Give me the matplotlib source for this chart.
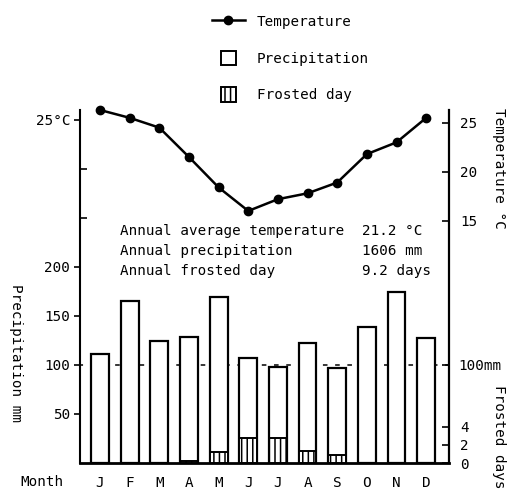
import matplotlib
matplotlib.use("Agg")
import matplotlib.pyplot as plt
import numpy as np
from matplotlib.lines import Line2D
from matplotlib.patches import Patch, Rectangle
from matplotlib.legend_handler import HandlerPatch

# Données
months = ["J", "F", "M", "A", "M", "J", "J", "A", "S", "O", "N", "D"]
temperature = [26.3, 25.5, 24.5, 21.5, 18.4, 16.0, 17.2, 17.8, 18.9, 21.8, 23.0, 25.5]
precipitation = [111, 165, 124, 129, 169, 107, 98, 122, 97, 139, 174, 128]
frosted_days = [0, 0, 0, 0.2, 1.2, 2.8, 2.8, 1.3, 0.9, 0, 0, 0]

summary_labels = ["Annual average temperature", "Annual precipitation", "Annual frosted day"]
summary_values = ["21.2 °C", "1606 mm", "9.2 days"]

plt.rcParams['font.family'] = ['DejaVu Sans Mono']
plt.rcParams['font.size'] = 10.3
plt.rcParams['hatch.linewidth'] = 1.1


def square_patch(legend, orig_handle, xdescent, ydescent, width, height, fontsize):
    # carré centré dans la case de la légende
    return Rectangle((width / 2 - height / 2 - xdescent, -ydescent), height, height)


fig = plt.figure(figsize=(5.13, 4.9), dpi=100)
ax = fig.add_axes([80 / 513, 27 / 490, 369 / 513, 353 / 490])
x = np.arange(len(months))

# Précipitations
ax.bar(x, precipitation, width=0.6, color='white', edgecolor='black', linewidth=1.6, zorder=2)
ax.axhline(100, color='black', linestyle=(1, (3, 5)), linewidth=1.1, zorder=1)
ax.set_xlim(-0.675, 11.77)
ax.set_ylim(0, 360.2)
ax.set_xticks(x, months)
ax.tick_params(axis='x', length=0, pad=9)
ax.set_yticks([50, 100, 150, 200, 350], ['50', '100', '150', '200', '25°C'])
ax.set_yticks([250, 300], minor=True)
ax.tick_params(axis='y', which='major', direction='out', length=4, width=1.2, pad=3)
ax.tick_params(axis='y', which='minor', direction='in', length=5, width=1.2)
ax.spines['top'].set_visible(False)
ax.spines['right'].set_visible(False)
ax.spines['left'].set_linewidth(1.5)
ax.spines['bottom'].set_linewidth(2)

sec = ax.secondary_yaxis('right')
sec.set_yticks([100], ['100mm'])
sec.tick_params(direction='in', length=5, width=1.2, pad=7)
for s in sec.spines.values():
    s.set_visible(False)

# Température
ax2 = ax.twinx()
ax2.plot(x, temperature, 'o-', color='black', linewidth=1.8, markersize=6, clip_on=False)
ax2.set_ylim(-9.72, 26.30)
ax2.set_yticks([15, 20, 25])
ax2.tick_params(axis='y', direction='in', length=5, width=1.2, pad=8)
for name in ['top', 'left', 'bottom']:
    ax2.spines[name].set_visible(False)
ax2.spines['right'].set_linewidth(1.6)

# Jours de gel
ax3 = ax.twinx()
ax3.bar(x, frosted_days, width=0.6, color='white', edgecolor='black', hatch='|||', linewidth=1.4)
ax3.set_ylim(0, 39.2)
ax3.set_yticks([0, 2, 4])
ax3.tick_params(axis='y', direction='in', length=5, width=1.2, pad=8)
for s in ax3.spines.values():
    s.set_visible(False)

# Textes
fig.text(20 / 513, 1 - 482 / 490, "Month", va='center')
fig.text(16 / 513, 1 - 353 / 490, "Precipitation mm", rotation=-90, ha='center', va='center')
fig.text(499 / 513, 1 - 168 / 490, "Temperature °C", rotation=-90, ha='center', va='center')
fig.text(499 / 513, 1 - 385 / 490, "Frosted days", rotation=-90, ha='center', va='top')

for i, (label, value) in enumerate(zip(summary_labels, summary_values)):
    y = 1 - (231 + 20 * i) / 490
    fig.text(120 / 513, y, label, va='center')
    fig.text(362 / 513, y, value, va='center')

# Légende
handles = [
    Line2D([], [], color='black', marker='o', linewidth=1.8, markersize=6),
    Patch(facecolor='white', edgecolor='black', linewidth=1.4),
    Patch(facecolor='white', edgecolor='black', hatch='|||', linewidth=1.4),
]
fig.legend(handles, ["Temperature", "Precipitation", "Frosted day"],
           loc='upper left', bbox_to_anchor=(212 / 513, 1 - 14 / 490),
           frameon=False, borderpad=0, borderaxespad=0,
           handlelength=2.3, handleheight=1.2, handletextpad=0.85, labelspacing=1.5,
           handler_map={Patch: HandlerPatch(patch_func=square_patch)})

fig.savefig("out.png", dpi=100)
